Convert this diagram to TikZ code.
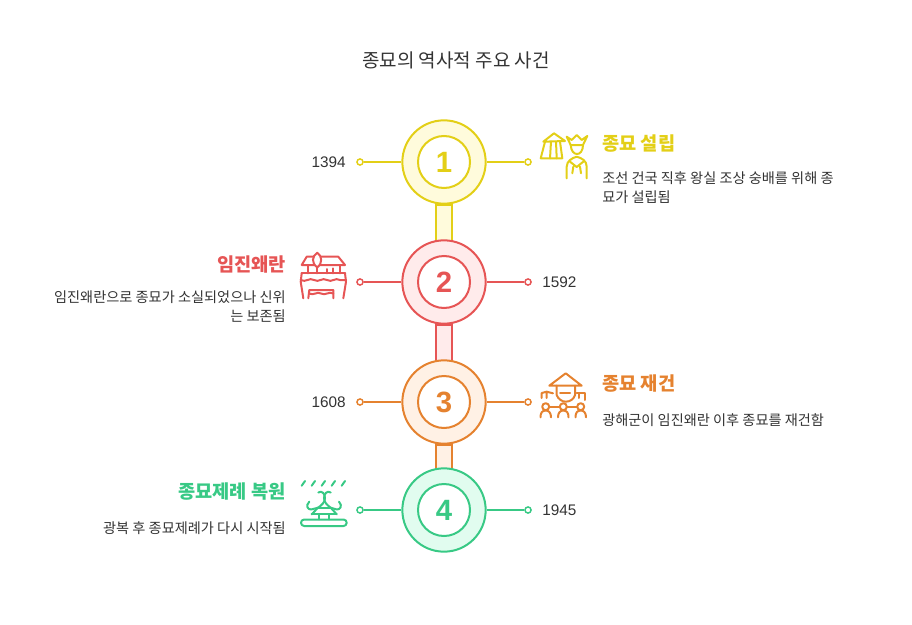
\documentclass[tikz,border=0pt]{standalone}
\usepackage{fontspec}
\setmainfont{Noto Sans CJK KR}
\newfontfamily\digitfont{Liberation Sans}
\usetikzlibrary{backgrounds}
\definecolor{yel}{HTML}{E3CF17}
\definecolor{yelpale}{HTML}{FFFBDC}
\definecolor{red1}{HTML}{E65555}
\definecolor{redpale}{HTML}{FFEBEB}
\definecolor{ora}{HTML}{E5822F}
\definecolor{orapale}{HTML}{FFF1E5}
\definecolor{gre}{HTML}{38C985}
\definecolor{grepale}{HTML}{E1FCEF}
\definecolor{ink}{HTML}{333333}
\tikzset{
  ringout/.style={circle, draw=#1, line width=1.5pt, minimum size=62.5pt, inner sep=0pt},
  ringin/.style={circle, draw=#1, fill=white, line width=1.5pt, minimum size=39pt, inner sep=0pt,
    text=#1, font=\digitfont\fontsize{22}{22}\selectfont\bfseries},
  dotend/.style={circle, draw=#1, fill=white, line width=1.1pt, minimum size=4.6pt, inner sep=0pt},
  stub/.style={draw=#1, line width=1.1pt},
  band/.style={line width=1.5pt},
  yeartext/.style={text=ink, inner sep=0pt, font=\digitfont\fontsize{11.5}{14}\selectfont},
  headtext/.style={text=#1, inner sep=0pt, font=\fontsize{14}{16}\selectfont\bfseries},
  bodytext/.style={text=ink, inner sep=0pt, font=\fontsize{10.65}{14.25}\selectfont},
  iconline/.style={draw=#1, line width=1.5pt, line cap=round, line join=round},
}
\begin{document}
\begin{tikzpicture}[x=0.75pt, y=-0.75pt]
  \useasboundingbox (0,0) rectangle (912,624);
  % titulo
  \node[text=ink, inner sep=0pt, font=\fontsize{14.25}{16}\selectfont] (title) at (456,60) {종묘의 역사적 주요 사건};
  % anillos
  \node[ringout=yel, fill=yelpale] (c1) at (444,162) {};
  \node[ringin=yel] (n1) at (c1) {1};
  \node[ringout=red1, fill=redpale] (c2) at (444,282) {};
  \node[ringin=red1] (n2) at (c2) {2};
  \node[ringout=ora, fill=orapale] (c3) at (444,402) {};
  \node[ringin=ora] (n3) at (c3) {3};
  \node[ringout=gre, fill=grepale] (c4) at (444,510) {};
  \node[ringin=gre] (n4) at (c4) {4};
  % bandas
  \begin{scope}[on background layer]
    \draw[band, draw=yel, fill=yelpale] ([xshift=-6pt]c1.south) rectangle ([xshift=6pt]c2.center);
    \draw[band, draw=red1, fill=redpale] ([xshift=-6pt]c2.south) rectangle ([xshift=6pt]c3.center);
    \draw[band, draw=ora, fill=orapale] ([xshift=-6pt]c3.south) rectangle ([xshift=6pt]c4.center);
  \end{scope}
  % puntas
  \node[dotend=yel] (d1l) at (360,162) {};
  \node[dotend=yel] (d1r) at (528,162) {};
  \node[dotend=red1] (d2l) at (360,282) {};
  \node[dotend=red1] (d2r) at (528,282) {};
  \node[dotend=ora] (d3l) at (360,402) {};
  \node[dotend=ora] (d3r) at (528,402) {};
  \node[dotend=gre] (d4l) at (360,510) {};
  \node[dotend=gre] (d4r) at (528,510) {};
  \draw[stub=yel] (c1) -- (d1l);
  \draw[stub=yel] (c1) -- (d1r);
  \draw[stub=red1] (c2) -- (d2l);
  \draw[stub=red1] (c2) -- (d2r);
  \draw[stub=ora] (c3) -- (d3l);
  \draw[stub=ora] (c3) -- (d3r);
  \draw[stub=gre] (c4) -- (d4l);
  \draw[stub=gre] (c4) -- (d4r);
  % anos
  \node[yeartext, anchor=east] (y1) at (346,162) {1394};
  \node[yeartext, anchor=west] (y2) at (542,282) {1592};
  \node[yeartext, anchor=east] (y3) at (346,402) {1608};
  \node[yeartext, anchor=west] (y4) at (542,510) {1945};
  % textos
  \node[headtext=yel, anchor=west] (h1) at (602,144) {종묘 설립};
  \node[bodytext, anchor=north west, align=left] (b1) at (602,171) {조선 건국 직후 왕실 조상 숭배를 위해 종\\묘가 설립됨};
  \node[headtext=red1, anchor=east] (h2) at (286,264) {임진왜란};
  \node[bodytext, anchor=north east, align=right] (b2) at (286,290.5) {임진왜란으로 종묘가 소실되었으나 신위\\는 보존됨};
  \node[headtext=ora, anchor=west] (h3) at (602,384) {종묘 재건};
  \node[bodytext, anchor=north west, align=left] (b3) at (602,413) {광해군이 임진왜란 이후 종묘를 재건함};
  \node[headtext=gre, anchor=east] (h4) at (286,492) {종묘제례 복원};
  \node[bodytext, anchor=north east, align=right] (b4) at (286,521) {광복 후 종묘제례가 다시 시작됨};
  % icono 1
  \draw[iconline=yel] (543.3,141.7) -- (554,133.3) -- (565,141) -- cycle;
  \draw[iconline=yel] (545,141.7) -- (540.7,158.3) -- (562.3,158.3) -- (560,141.7);
  \draw[iconline=yel] (551,141.7) -- (550,158.3) (556,141.7) -- (556.7,158.3);
  \draw[iconline=yel] (566.7,136.7) -- (571.7,140) -- (576.7,135) -- (581.7,140) -- (587.3,136) -- (583,145) -- (570.7,145) -- cycle;
  \draw[iconline=yel] (570.7,145) .. controls (571,151) and (574,154) .. (577,154) .. controls (580,154) and (583,151) .. (583,145);
  \draw[iconline=yel] (566.7,178.3) -- (566.7,166.7) .. controls (566.7,161) and (572,158) .. (576.7,156.7) .. controls (582,158) and (586.7,161) .. (586.7,166.7) -- (586.7,178.3);
  \draw[iconline=yel] (570,161.7) -- (576.7,167) -- (583.3,161.7) (573.3,166.7) -- (572.3,173.3) (580,166.7) -- (581,173.3);
  % icono 2
  \draw[iconline=red1] (301.7,265) -- (306.7,256.7) -- (338.3,256.7) -- (345,265) -- cycle;
  \draw[iconline=red1, fill=white] (317.3,252.7) .. controls (312,256) and (311,263) .. (317.3,267.3) .. controls (323,263) and (322,256) .. (317.3,252.7);
  \draw[iconline=red1] (317.3,267.3) -- (317.3,273.3) (307.7,265.7) -- (307.7,273.3) (340,265.7) -- (340,273.3) (326.7,269) -- (326.7,273.3) (333.3,268.3) -- (333.3,273.3);
  \draw[iconline=red1] (301.7,273.3) -- (345,273.3);
  \draw[iconline=red1] (301.7,273.3) -- (300.7,281.7) -- (303.3,298.3) (345,273.3) -- (346,281.7) -- (343.3,298.3);
  \draw[iconline=red1] (300.7,280) .. controls (306,283) and (309,277) .. (314,280) .. controls (319,283) and (322,277) .. (327,280) .. controls (332,283) and (335,277) .. (340,280) -- (346,280);
  \draw[iconline=red1] (308.3,298.3) -- (309.3,290) -- (333.3,290) -- (333.3,298.3);
  \draw[iconline=red1] (309,293.5) .. controls (314,296) and (317,291) .. (321,293.5) .. controls (325,296) and (329,291) .. (333.3,293.5);
  % icono 3
  \draw[iconline=ora] (565.7,373.3) -- (549.3,385.7) -- (581.7,385.7) -- cycle;
  \draw[iconline=ora] (556.7,385.7) -- (556.7,395) .. controls (558,399) and (562,401.7) .. (565.7,401.7) .. controls (570,401.7) and (574,399) .. (575,395) -- (575,385.7);
  \draw[iconline=ora] (560,393.3) -- (570,393.3);
  \draw[iconline=ora] (541.7,398) -- (541.7,393) -- (546.7,391.7) -- (553,393.3) (546.7,391.7) -- (546.7,398);
  \draw[iconline=ora] (576.7,393.3) -- (585,393.3) -- (585,400) (579,393.3) -- (579,398);
  \draw[iconline=ora] (545.7,406.7) circle (3.5) (563.3,406.7) circle (3.5) (580.7,406.7) circle (3.5);
  \draw[iconline=ora] (549.2,407) -- (559.8,407) (566.8,407) -- (577.2,407);
  \draw[iconline=ora] (540.5,417.3) .. controls (540.5,413) and (542,410.5) .. (545.7,410.5) .. controls (549,410.5) and (551,413) .. (551,417.3);
  \draw[iconline=ora] (558,417.3) .. controls (558,413) and (560,410.5) .. (563.3,410.5) .. controls (567,410.5) and (568.5,413) .. (568.5,417.3);
  \draw[iconline=ora] (575.5,417.3) .. controls (575.5,413) and (577,410.5) .. (580.7,410.5) .. controls (584,410.5) and (586,413) .. (586,417.3);
  % icono 4
  \draw[iconline=gre] (301.7,485.7) -- (305,481) (311.7,485.7) -- (315,481) (321.7,485.7) -- (325,481) (331.7,485.7) -- (335,481) (341.7,485.7) -- (345,481);
  \draw[iconline=gre, rounded corners=2.4pt] (301,519.5) rectangle (346.7,526);
  \draw[iconline=gre] (319.3,514.3) -- (319.3,519.3) (329.3,514.3) -- (329.3,519.3) (311.7,514.3) -- (336.7,514.3) (318,507.7) -- (330.7,507.7);
  \draw[iconline=gre] (318,507.7) -- (311.7,514.3) (330.7,507.7) -- (336.7,514.3);
  \draw[iconline=gre] (318.3,492.5) .. controls (322,490) and (325,494) .. (325,498) .. controls (325,502) and (322,505) .. (318,507.7);
  \draw[iconline=gre] (330.7,492.5) .. controls (327,490) and (324,494) .. (324,498) .. controls (324,502) and (327,505) .. (330.7,507.7);
  \draw[iconline=gre] (309.3,501.7) .. controls (305,506) and (308,509.5) .. (311,509.5) -- (318,507.7);
  \draw[iconline=gre] (339,501.7) .. controls (343,506) and (340,509.5) .. (337,509.5) -- (330.7,507.7);
\end{tikzpicture}
\end{document}
